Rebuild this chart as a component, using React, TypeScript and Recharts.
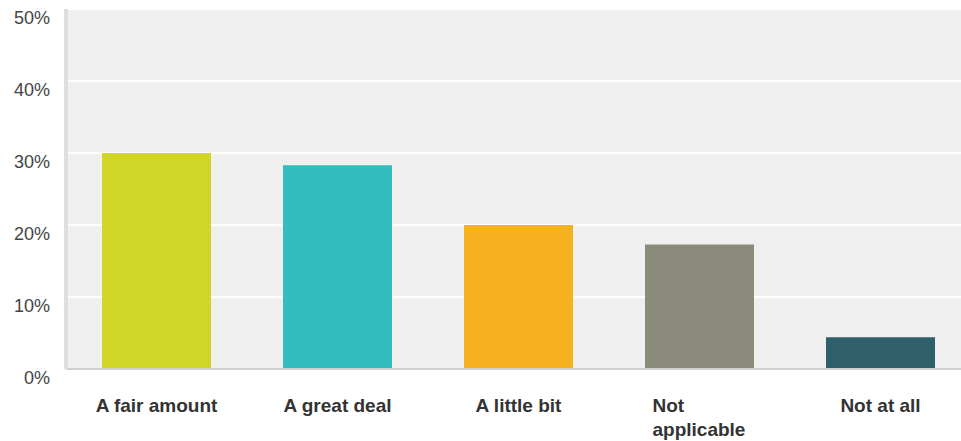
import { BarChart, Bar, XAxis, YAxis, CartesianGrid, Cell } from "recharts";

const categories = ["A fair amount", "A great deal", "A little bit", "Not applicable", "Not at all"];
const shares = [0.3, 0.283, 0.2, 0.173, 0.044];
const barColors = ["#d0d527", "#33bdbf", "#f6b11e", "#8b8b7b", "#2e5f6b"];
const yTicks = [0, 0.1, 0.2, 0.3, 0.4, 0.5];

// "Not applicable" wraps onto two lines in the source
const labelLines: Record<string, string[]> = {
  "Not applicable": ["Not", "applicable"],
};

const chartData = categories.map((name, i) => ({ name, value: shares[i] }));

function XTick(props: any) {
  const { x, y, payload } = props;
  const lines = labelLines[payload.value] || [payload.value];
  const multi = lines.length > 1;
  return (
    <text
      x={multi ? x - 47 : x}
      y={y + 35}
      textAnchor={multi ? "start" : "middle"}
      fill="#333"
      fontSize={19}
      fontWeight="bold"
      fontFamily="'Liberation Sans', Arial, sans-serif"
    >
      {lines.map((line, i) => (
        <tspan key={i} x={multi ? x - 47 : x} dy={i === 0 ? 0 : 24}>
          {line}
        </tspan>
      ))}
    </text>
  );
}

function YTick(props: any) {
  const { y, payload } = props;
  return (
    <text
      x={50}
      y={y + 15}
      textAnchor="end"
      fill="#444"
      fontSize={18}
      fontFamily="'Liberation Sans', Arial, sans-serif"
    >
      {Math.round(payload.value * 100)}%
    </text>
  );
}

export default function App() {
  return (
    <div style={{ position: "absolute", left: 0, top: 0, width: 961, height: 441, overflow: "hidden", background: "#fff" }}>
      <BarChart width={971} height={441} data={chartData} margin={{ top: 9, right: 0, bottom: 0, left: 0 }}>
        <CartesianGrid vertical={false} stroke="#ffffff" strokeWidth={2} fill="#efefef" />
        <XAxis
          dataKey="name"
          height={72}
          tickLine={false}
          axisLine={{ stroke: "#d0d0d0", strokeWidth: 2 }}
          tick={<XTick />}
          interval={0}
        />
        <YAxis
          width={66}
          domain={[0, 0.5]}
          ticks={yTicks}
          tickLine={false}
          axisLine={{ stroke: "#dedede", strokeWidth: 4 }}
          tick={<YTick />}
        />
        <Bar dataKey="value" barSize={109} isAnimationActive={false}>
          {chartData.map((d, i) => (
            <Cell key={d.name} fill={barColors[i]} />
          ))}
        </Bar>
      </BarChart>
    </div>
  );
}
